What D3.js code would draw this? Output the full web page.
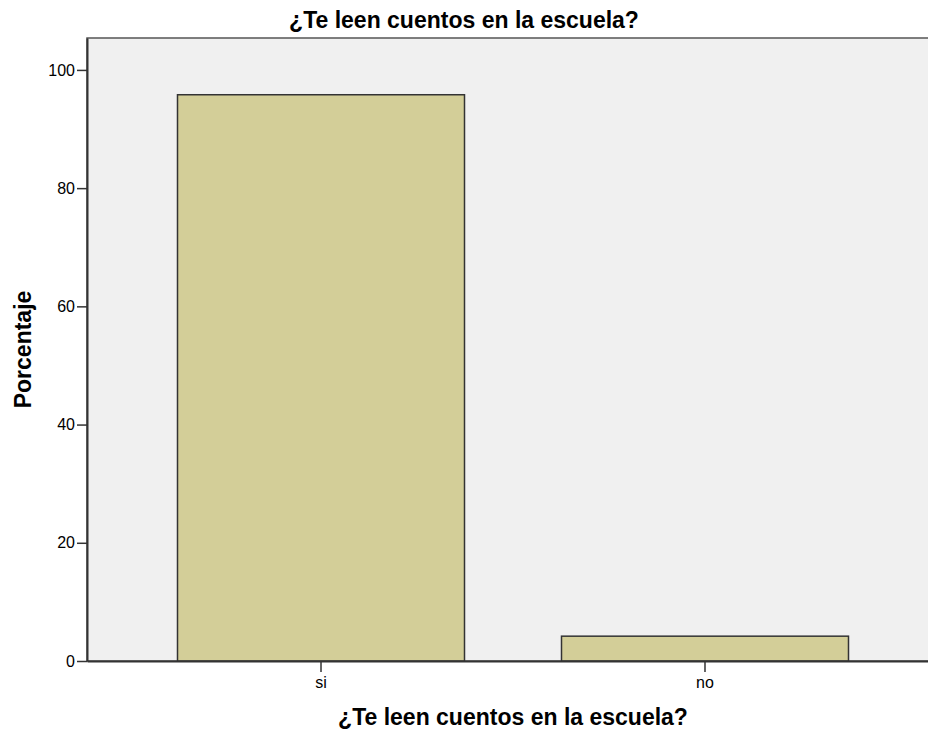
<!DOCTYPE html>
<html>
<head>
<meta charset="utf-8">
<script src="https://cdn.jsdelivr.net/npm/d3@7"></script>
<style>
  body { margin: 0; background: #fff; }
  text { font-family: "Liberation Sans", Arial, sans-serif; fill: #000; }
</style>
</head>
<body>
<div id="chart"></div>
<script>
const categories = ["si", "no"];
const percentages = [95.8, 4.2];
const yTicks = [0, 20, 40, 60, 80, 100];
const chartTitle = "¿Te leen cuentos en la escuela?";
const xTitle = "¿Te leen cuentos en la escuela?";
const yTitle = "Porcentaje";

(function(){
  const width = 928;
  const height = 733;
  const plot = { left: 87, top: 38, right: 939, bottom: 661 };

  const svg = d3.select("#chart")
    .append("svg")
    .attr("width", width)
    .attr("height", height);

  const x = d3.scaleBand()
    .domain(categories)
    .range([plot.left, plot.right])
    .paddingInner(0.2526)
    .paddingOuter(0.2357);

  const y = d3.scaleLinear()
    .domain([0, 105.4])
    .range([plot.bottom, plot.top]);

  // plot background
  svg.append("rect")
    .attr("x", plot.left)
    .attr("y", plot.top)
    .attr("width", plot.right - plot.left)
    .attr("height", plot.bottom - plot.top)
    .attr("fill", "#f0f0f0")
    .attr("stroke", "#555")
    .attr("stroke-width", 1.5);

  // bars
  svg.append("g")
    .selectAll("rect")
    .data(categories)
    .enter().append("rect")
    .attr("x", d => x(d))
    .attr("y", (d, i) => y(percentages[i]))
    .attr("width", x.bandwidth())
    .attr("height", (d, i) => y(0) - y(percentages[i]))
    .attr("fill", "#d3ce98")
    .attr("stroke", "#333")
    .attr("stroke-width", 1.5);

  // y axis
  const yAxis = svg.append("g")
    .attr("transform", `translate(${plot.left},0)`)
    .call(d3.axisLeft(y).tickValues(yTicks).tickSize(10).tickPadding(2).tickSizeOuter(0));
  yAxis.select(".domain").attr("stroke", "#333").attr("stroke-width", 2);
  yAxis.selectAll(".tick line").attr("stroke", "#333").attr("stroke-width", 1.5);
  yAxis.selectAll(".tick text")
    .style("font-family", "'Liberation Sans', Arial, sans-serif")
    .style("font-size", "16px")
    .attr("fill", "#000");

  // x axis
  const xAxis = svg.append("g")
    .attr("transform", `translate(0,${plot.bottom})`)
    .call(d3.axisBottom(x).tickSize(11).tickPadding(5).tickSizeOuter(0));
  xAxis.select(".domain").attr("stroke", "#333").attr("stroke-width", 2);
  xAxis.selectAll(".tick line").attr("stroke", "#333").attr("stroke-width", 1.5);
  xAxis.selectAll(".tick text")
    .style("font-family", "'Liberation Sans', Arial, sans-serif")
    .style("font-size", "16px")
    .attr("fill", "#000");

  // titles
  svg.append("text")
    .attr("x", width / 2)
    .attr("y", 28)
    .attr("text-anchor", "middle")
    .style("font-size", "23px")
    .style("font-weight", "bold")
    .text(chartTitle);

  svg.append("text")
    .attr("x", (plot.left + plot.right) / 2)
    .attr("y", 725)
    .attr("text-anchor", "middle")
    .style("font-size", "23px")
    .style("font-weight", "bold")
    .text(xTitle);

  svg.append("text")
    .attr("transform", `translate(31,${(plot.top + plot.bottom) / 2}) rotate(-90)`)
    .attr("text-anchor", "middle")
    .style("font-size", "23px")
    .style("font-weight", "bold")
    .text(yTitle);
})();
</script>
</body>
</html>
